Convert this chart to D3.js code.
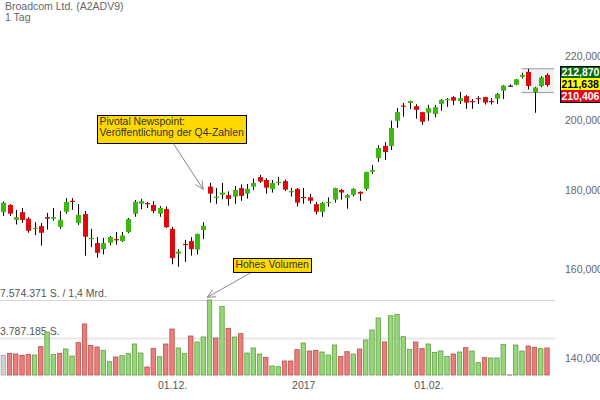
<!DOCTYPE html>
<html><head><meta charset="utf-8">
<script src="https://cdn.jsdelivr.net/npm/d3@7/dist/d3.min.js"></script>
<style>body{margin:0;background:#fff}svg{display:block;font-family:"Liberation Sans",Arial,sans-serif}</style>
</head><body><svg id="c" width="600" height="400"></svg>
<script>
const title = "Broadcom Ltd. (A2ADV9)";
const subtitle = "1 Tag";
const opens  = [174.2,176.1,172.2,174.2,172.5,169.9,170.6,172.9,172.5,170.4,174.3,177.2,171.4,173.7,167.3,166.3,164.8,166.4,167.3,166.8,169.1,173.8,176.4,176.6,176.1,173.8,175.0,169.9,163.7,166.1,166.8,164.7,169.6,181.0,178.0,178.8,178.7,178.3,180.6,179.1,181.0,183.6,182.8,180.3,182.0,182.5,179.5,180.4,178.2,178.1,176.3,174.3,176.6,177.5,180.1,178.0,178.8,179.6,180.4,185.1,188.9,192.4,192.4,199.8,204.4,205.2,204.2,202.4,202.2,201.8,204.9,206.1,207.0,205.8,207.3,205.8,206.7,207.0,205.8,206.5,209.0,210.6,210.9,213.4,215.0,208.5,210.5,214.0];
const highs  = [177.0,176.3,174.8,175.3,172.9,171.6,171.4,174.0,175.3,174.5,177.9,177.9,176.3,174.5,169.9,167.8,167.6,168.1,169.1,169.1,172.7,177.4,177.7,176.9,177.1,175.8,175.7,170.4,164.8,167.1,167.8,168.7,171.6,182.0,180.6,182.0,179.7,181.2,181.6,181.7,183.2,184.2,183.3,182.8,183.7,182.9,180.7,180.6,180.6,179.0,176.9,176.9,178.1,180.7,180.4,179.0,180.6,179.7,185.1,187.0,192.6,193.5,199.8,203.6,205.2,205.9,204.8,202.5,204.6,204.6,206.4,206.7,207.3,208.6,207.6,206.4,207.3,207.1,206.7,208.3,210.8,211.0,212.7,214.7,215.9,210.2,213.6,214.5];
const lows   = [173.2,173.2,171.0,171.4,168.9,168.3,165.7,169.7,172.0,169.9,173.8,174.8,170.9,163.2,165.3,162.7,163.5,165.7,165.9,166.6,168.8,173.0,175.0,175.3,173.9,173.0,170.1,161.1,160.5,161.7,163.2,163.5,167.3,176.7,176.4,177.6,175.9,176.4,177.2,177.8,180.1,182.0,179.1,179.4,181.4,179.8,178.3,175.7,176.4,176.4,173.6,173.0,175.6,176.7,177.5,175.1,178.4,177.2,179.9,184.5,187.8,188.4,191.2,197.7,201.0,203.3,200.4,198.6,199.8,200.8,202.8,204.0,204.6,204.9,203.4,203.4,204.9,204.7,204.7,204.9,206.4,210.3,210.7,212.9,209.4,202.2,210.1,210.3];
const closes = [176.7,173.8,172.9,172.2,169.4,170.2,168.9,172.5,172.9,172.2,176.9,177.0,173.5,167.9,167.6,163.9,166.3,167.8,167.1,168.2,172.4,176.9,177.1,176.3,174.5,175.3,170.3,162.6,164.2,165.8,164.8,168.6,170.7,179.1,178.3,179.4,177.7,180.1,178.5,180.4,182.0,182.4,180.7,182.0,182.3,180.2,179.8,176.7,178.0,177.2,174.3,176.6,176.9,180.6,179.4,178.7,180.4,179.1,185.0,185.6,191.8,190.6,197.6,202.4,204.1,205.8,203.1,199.5,203.6,203.9,206.1,206.4,205.9,206.7,205.3,205.5,206.4,205.3,205.5,208.0,210.6,210.6,212.6,214.0,210.5,210.0,213.2,210.8];
const volumes = [1986000,2188000,2121000,1986000,2087000,2020000,2861000,4343000,2087000,2188000,2626000,1919000,3265000,5151000,2996000,2828000,2491000,1346000,1818000,1952000,2154000,3131000,2222000,808000,2693000,1851000,3131000,4646000,2727000,2154000,3939000,3333000,3838000,7574371,3737000,6935000,4713000,3838000,4174000,2222000,2727000,2121000,1784000,909000,841000,1414000,1414000,2558000,3232000,2424000,2491000,2323000,2020000,3030000,1885000,2356000,2121000,2626000,3535000,4545000,5757000,3333000,5992000,6127000,3871000,2592000,3333000,2659000,3131000,2289000,2424000,1885000,2121000,2323000,2760000,2424000,1245000,1750000,1717000,1717000,3097000,40000,3030000,2424000,2929000,2794000,2659000,2727000];
const priceTicks = [140, 160, 180, 200, 220];
const tickIndex = [27, 48, 68];
const tickLabels = ["01.12.", "2017", "01.02."];
const volumeLevels = [7574371, 3787185];
const volumeLevelLabels = ["7.574.371 S. / 1,4 Mrd.", "3.787.185 S."];
const quoteLabels = ["212,870", "211,638", "210,406"];
const quoteBand = [216.0, 208.4];
const note1 = ["Pivotal Newspoint:", "Veröffentlichung der Q4-Zahlen"];
const note2 = ["Hohes Volumen"];
const noteIndex = 33;

const svg = d3.select("#c");
const n = closes.length;
const x = d3.scaleLinear().domain([0, n - 1]).range([3.3, 547]);
const y = d3.scaleLog().domain([140, 220]).range([357.9, 56.5]);
const yv = d3.scaleLinear().domain([0, 7574371]).range([375, 300]);
const FONT = "Liberation Sans, Arial, sans-serif";

// title
svg.append("text").attr("x", 5).attr("y", 9.5).attr("font-size", 10.5).attr("fill", "#666").text(title);
svg.append("text").attr("x", 5).attr("y", 20.5).attr("font-size", 10.5).attr("fill", "#666").text(subtitle);

// volume level lines
volumeLevels.forEach((v, i) => {
  svg.append("line").attr("x1", 0).attr("x2", 555).attr("y1", Math.round(yv(v)) + 0.5).attr("y2", Math.round(yv(v)) + 0.5)
    .attr("stroke", i === 0 ? "#d4d4d4" : "#e8e8e8").attr("stroke-width", i === 0 ? 1 : 2);
  svg.append("text").attr("x", 0).attr("y", yv(v) - 3).attr("font-size", 10.5).attr("fill", "#555").text(volumeLevelLabels[i]);
});

// volume bars
const volDir = closes.map((c, i) => i === 0 ? 0 : Math.sign(Math.round((c - closes[i - 1]) * 100)));
const volFill = d => d > 0 ? "#97d67a" : d < 0 ? "#e97f7c" : "#cfcfcf";
const volStroke = d => d > 0 ? "#5e9e40" : d < 0 ? "#b9504c" : "#aaaaaa";
svg.append("g").selectAll("rect").data(volumes).join("rect")
  .attr("x", (v, i) => x(i) - 2.2).attr("width", 4.4)
  .attr("y", v => yv(v)).attr("height", v => Math.max(0.8, 375 - yv(v)))
  .attr("fill", (v, i) => volFill(volDir[i])).attr("stroke", (v, i) => volStroke(volDir[i])).attr("stroke-width", 0.8);

// quote band
svg.append("rect").attr("x", 521.7).attr("width", 32.3).attr("y", y(quoteBand[0])).attr("height", y(quoteBand[1]) - y(quoteBand[0])).attr("fill", "#f1f1f1");
quoteBand.forEach(v => svg.append("line").attr("x1", 521.7).attr("x2", 554).attr("y1", y(v)).attr("y2", y(v)).attr("stroke", "#9a9a9a").attr("stroke-width", 1));

// candles
const cg = svg.append("g");
const idx = d3.range(n);
cg.selectAll("line").data(idx).join("line")
  .attr("x1", i => Math.round(x(i)) + 0.5).attr("x2", i => Math.round(x(i)) + 0.5)
  .attr("y1", i => y(highs[i])).attr("y2", i => y(lows[i]))
  .attr("stroke", "#000").attr("stroke-width", 1);
const candleColor = i => closes[i] > opens[i] ? "#3cb80e" : closes[i] < opens[i] ? "#e0080b" : "#222";
cg.selectAll("rect").data(idx).join("rect")
  .attr("x", i => Math.round(x(i)) + 0.5 - 2.5).attr("width", 5)
  .attr("y", i => y(Math.max(opens[i], closes[i])))
  .attr("height", i => Math.max(1.2, y(Math.min(opens[i], closes[i])) - y(Math.max(opens[i], closes[i]))))
  .attr("fill", candleColor);

// price axis
const ya = svg.append("g").attr("transform", "translate(562,0)")
  .call(d3.axisRight(y).tickValues(priceTicks).tickSize(0).tickPadding(3).tickFormat(d => d.toFixed(3).replace(".", ",")));
ya.select(".domain").remove();
ya.selectAll("text").attr("fill", "#666").attr("font-size", 10.5).attr("font-family", FONT);

// x axis
const xa = svg.append("g").attr("transform", "translate(0,379)")
  .call(d3.axisBottom(x).tickValues(tickIndex).tickSize(0).tickPadding(3).tickFormat((d, i) => tickLabels[i]));
xa.select(".domain").remove();
xa.selectAll("text").attr("fill", "#555").attr("font-size", 10.5).attr("font-family", FONT);

// quote labels
const qColors = [["#0a6b0a", "#fff"], ["#ffff00", "#000"], ["#e0081a", "#fff"]];
const qg = svg.append("g");
quoteLabels.forEach((t, i) => {
  qg.append("rect").attr("x", 560).attr("y", 66 + i * 12).attr("width", 42).attr("height", 12).attr("fill", qColors[i][0]);
  qg.append("text").attr("x", 561.5).attr("y", 76 + i * 12).attr("font-size", 10.5).attr("font-weight", "bold").attr("fill", qColors[i][1]).text(t);
});
qg.append("rect").attr("x", 560.5).attr("y", 66.5).attr("width", 42).attr("height", 36).attr("fill", "none").attr("stroke", "#000");

// annotations
function arrow(x1, y1, x2, y2) {
  svg.append("line").attr("x1", x1).attr("y1", y1).attr("x2", x2).attr("y2", y2).attr("stroke", "#8a8a8a").attr("stroke-width", 1);
  const a = Math.atan2(y2 - y1, x2 - x1), L = 9, s = 0.45;
  [a + Math.PI - s, a + Math.PI + s].forEach(b => svg.append("line").attr("x1", x2).attr("y1", y2)
    .attr("x2", x2 + L * Math.cos(b)).attr("y2", y2 + L * Math.sin(b)).attr("stroke", "#8a8a8a").attr("stroke-width", 1));
}
function note(lines, bx, by, bw, bh) {
  svg.append("rect").attr("x", bx + 0.5).attr("y", by + 0.5).attr("width", bw).attr("height", bh).attr("fill", "#ffd800").attr("stroke", "#000");
  lines.forEach((t, i) => svg.append("text").attr("x", bx + 2.5).attr("y", by + 10 + i * 11).attr("font-size", 10.4).attr("fill", "#333").text(t));
}
arrow(173.3, 143.5, x(noteIndex) - 6.3, y(opens[noteIndex]) + 2.7);
arrow(252, 272, x(noteIndex) - 2.3, yv(volumes[noteIndex]) - 2.7);
note(note1, 97, 115, 149, 28);
note(note2, 233, 258, 78, 14);
</script></body></html>
